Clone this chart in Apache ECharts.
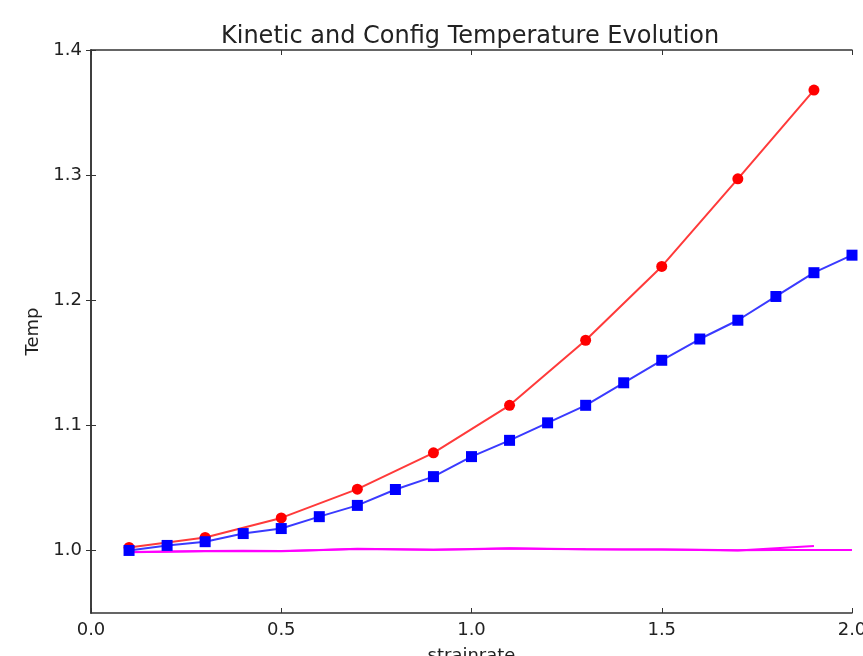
<!DOCTYPE html>
<html>
<head>
<meta charset="utf-8">
<script src="https://cdn.jsdelivr.net/npm/echarts@6/dist/echarts.min.js"></script>
<style>
  html, body { margin: 0; padding: 0; background: #fff; }
  #chart { width: 863px; height: 656px; }
</style>
</head>
<body>
<div id="chart"></div>
<script>
// strain rates
var rateFine = [0.1, 0.2, 0.3, 0.4, 0.5, 0.6, 0.7, 0.8, 0.9, 1.0, 1.1, 1.2, 1.3, 1.4, 1.5, 1.6, 1.7, 1.8, 1.9, 2.0];
var rateCoarse = [0.1, 0.3, 0.5, 0.7, 0.9, 1.1, 1.3, 1.5, 1.7, 1.9];

var kineticCoarse = [1.0024, 1.0104, 1.026, 1.049, 1.078, 1.116, 1.168, 1.227, 1.297, 1.368];
var kineticFine = [1.000, 1.004, 1.007, 1.0135, 1.0175, 1.027, 1.036, 1.0487, 1.059, 1.075,
    1.088, 1.102, 1.116, 1.134, 1.152, 1.169, 1.184, 1.203, 1.222, 1.236];
var configFine = [0.9988, 0.9992, 0.9996, 0.9998, 0.9995, 1.0003, 1.0013, 1.001, 1.0006, 1.001,
    1.0016, 1.0012, 1.001, 1.0008, 1.0008, 1.0006, 1.0002, 1.0004, 1.0004, 1.0003];
var configCoarse = [0.9985, 0.9994, 0.9994, 1.0011, 1.0006, 1.0018, 1.001, 1.0008, 1.0, 1.0036];

var xTicks = [0, 0.5, 1.0, 1.5, 2.0];
var yTicks = [1.0, 1.1, 1.2, 1.3, 1.4];

function pairs(xs, ys) {
    return xs.map(function (x, i) { return [x, ys[i]]; });
}

var axisColor = '#333';
var fontFamily = 'DejaVu Sans';

var myChart = echarts.init(document.getElementById('chart'), null, {renderer: 'canvas'});

var option = {
    animation: false,
    backgroundColor: '#fff',
    title: {
        text: 'Kinetic and Config Temperature Evolution',
        left: 216,
        top: 20,
        textStyle: {fontFamily: fontFamily, fontSize: 24, fontWeight: 'normal', color: '#222'}
    },
    grid: {left: 91, top: 50, right: 11, bottom: 43, containLabel: false, outerBoundsMode: 'none'},
    xAxis: [{
        type: 'value',
        min: 0, max: 2,
        name: 'strainrate',
        nameLocation: 'middle',
        nameGap: 34,
        nameTextStyle: {fontFamily: fontFamily, fontSize: 18, color: '#222'},
        splitLine: {show: false},
        axisLine: {lineStyle: {color: axisColor, width: 1.5}},
        axisTick: {inside: true, length: 5, customValues: xTicks, lineStyle: {color: axisColor}},
        axisLabel: {
            margin: 8,
            customValues: xTicks,
            fontFamily: fontFamily, fontSize: 18, color: '#222',
            formatter: function (v) { return v.toFixed(1); }
        }
    }, {
        type: 'value', position: 'top',
        min: 0, max: 2,
        splitLine: {show: false},
        axisLine: {lineStyle: {color: axisColor, width: 1.5}},
        axisTick: {inside: true, length: 5, customValues: xTicks, lineStyle: {color: axisColor}},
        axisLabel: {show: false, customValues: xTicks}
    }],
    yAxis: [{
        type: 'value',
        min: 0.95, max: 1.4,
        name: 'Temp',
        nameLocation: 'middle',
        nameGap: 48,
        nameTextStyle: {fontFamily: fontFamily, fontSize: 18, color: '#222'},
        splitLine: {show: false},
        axisLine: {lineStyle: {color: axisColor, width: 1.5}},
        axisTick: {inside: true, length: 5, customValues: yTicks, lineStyle: {color: axisColor}},
        axisLabel: {
            margin: 9,
            customValues: yTicks,
            fontFamily: fontFamily, fontSize: 18, color: '#222',
            formatter: function (v) { return v.toFixed(1); }
        }
    }, {
        type: 'value', position: 'right',
        min: 0.95, max: 1.4,
        splitLine: {show: false},
        axisLine: {lineStyle: {color: axisColor, width: 1.5}},
        axisTick: {inside: true, length: 5, customValues: yTicks, lineStyle: {color: axisColor}},
        axisLabel: {show: false, customValues: yTicks}
    }],
    series: [
        {
            name: 'kinetic coarse', type: 'line',
            data: pairs(rateCoarse, kineticCoarse),
            symbol: 'circle', symbolSize: 11,
            itemStyle: {color: '#ff0000'},
            lineStyle: {color: '#ff3a3a', width: 2},
            clip: false
        },
        {
            name: 'kinetic fine', type: 'line',
            data: pairs(rateFine, kineticFine),
            symbol: 'rect', symbolSize: 11,
            itemStyle: {color: '#0000ff'},
            lineStyle: {color: '#3a3aff', width: 2},
            clip: false
        },
        {
            name: 'config fine', type: 'line',
            data: pairs(rateFine, configFine),
            showSymbol: false, symbol: 'none',
            lineStyle: {color: '#ff00ff', width: 2}
        },
        {
            name: 'config coarse', type: 'line',
            data: pairs(rateCoarse, configCoarse),
            showSymbol: false, symbol: 'none',
            lineStyle: {color: '#ff00ff', width: 2}
        }
    ]
};

myChart.setOption(option);
</script>
</body>
</html>
